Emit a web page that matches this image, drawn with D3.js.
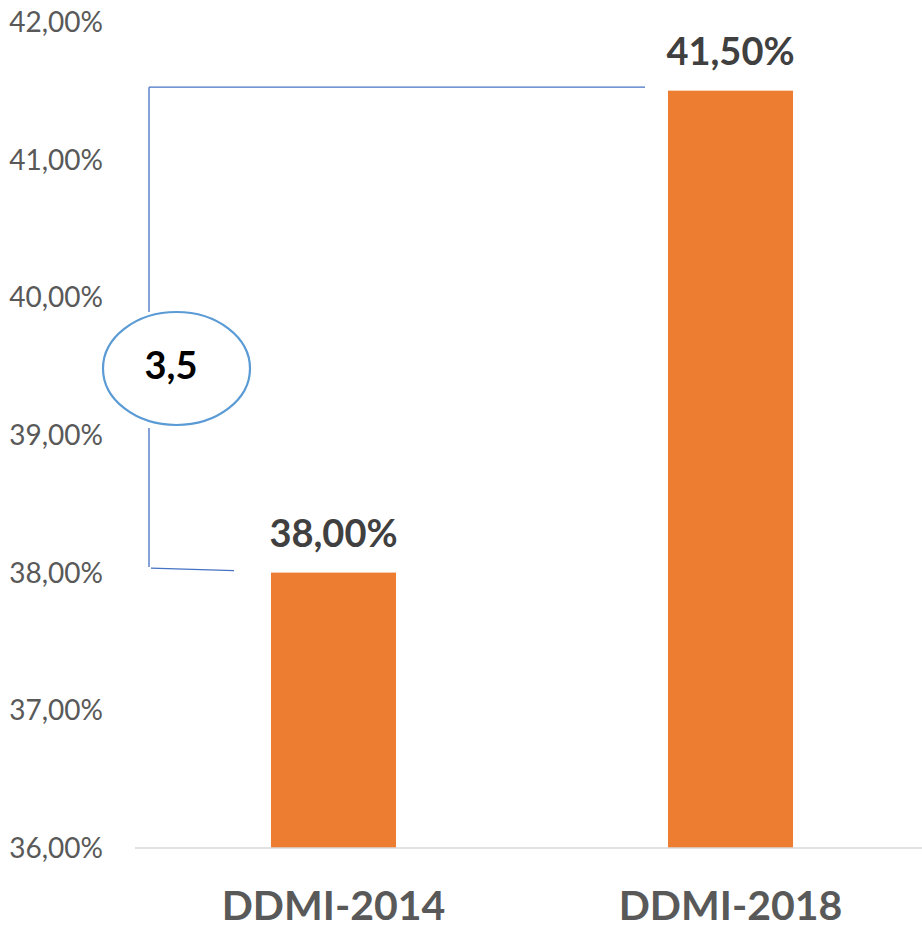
<!DOCTYPE html>
<html>
<head>
<meta charset="utf-8">
<script src="https://cdn.jsdelivr.net/npm/d3@7"></script>
<style>
  html, body { margin: 0; padding: 0; background: #ffffff; }
  #chart { width: 922px; height: 930px; }
</style>
</head>
<body>
<div id="chart"></div>
<script>
// chart data
const categories = ["DDMI-2014", "DDMI-2018"];
const values = [38.0, 41.5];
const yTicks = [36, 37, 38, 39, 40, 41, 42];
const diffLabel = "3,5";

const width = 922;
const height = 930;
const font = "Lato, 'Open Sans', sans-serif";
const barColor = "#ed7d31";
const bracketColor = "#4472c4";

const fmt = (v) => v.toFixed(2).replace(".", ",") + "%";

const svg = d3
  .select("#chart")
  .append("svg")
  .attr("width", width)
  .attr("height", height)
  .style("font-family", font);

const y = d3.scaleLinear().domain([36, 42]).range([848, 21.8]);

const x = d3
  .scaleBand()
  .domain(categories)
  .range([135, 929])
  .paddingInner(0.685)
  .paddingOuter(0.3425);

// y axis labels (no axis line)
svg
  .append("g")
  .selectAll("text")
  .data(yTicks)
  .join("text")
  .attr("x", 103)
  .attr("y", (d) => y(d))
  .attr("dy", "0.36em")
  .attr("text-anchor", "end")
  .attr("fill", "#595959")
  .style("font-size", "28px")
  .text((d) => fmt(d));

// bars
svg
  .append("g")
  .selectAll("rect")
  .data(values)
  .join("rect")
  .attr("x", (d, i) => x(categories[i]))
  .attr("y", (d) => y(d))
  .attr("width", x.bandwidth())
  .attr("height", (d) => y(36) - y(d))
  .attr("fill", barColor);

// baseline
svg
  .append("line")
  .attr("x1", 135)
  .attr("x2", 922)
  .attr("y1", y(36))
  .attr("y2", y(36))
  .attr("stroke", "#d9d9d9")
  .attr("stroke-width", 1.5);

// value labels
svg
  .append("g")
  .selectAll("text")
  .data(values)
  .join("text")
  .attr("x", (d, i) => x(categories[i]) + x.bandwidth() / 2)
  .attr("y", (d) => y(d) - 26)
  .attr("text-anchor", "middle")
  .attr("fill", "#404040")
  .style("font-size", "38px")
  .style("font-weight", "bold")
  .text((d) => fmt(d));

// category labels
svg
  .append("g")
  .selectAll("text")
  .data(categories)
  .join("text")
  .attr("x", (d) => x(d) + x.bandwidth() / 2)
  .attr("y", 920)
  .attr("text-anchor", "middle")
  .attr("fill", "#595959")
  .style("font-size", "41px")
  .style("font-weight", "bold")
  .text((d) => d);

// difference bracket
const bx = 149;
const ell = { cx: 176.5, cy: 368.5, rx: 73.5, ry: 56.5 };
const topY = y(values[1]) - 3.5;
const botY = y(values[0]) - 5.5;

const bracket = svg
  .append("g")
  .attr("stroke", bracketColor)
  .attr("stroke-width", 1.3)
  .attr("fill", "none");

bracket
  .append("line")
  .attr("x1", bx)
  .attr("x2", 645)
  .attr("y1", topY)
  .attr("y2", topY);
bracket
  .append("line")
  .attr("x1", bx)
  .attr("x2", bx)
  .attr("y1", topY)
  .attr("y2", ell.cy - ell.ry);
bracket
  .append("line")
  .attr("x1", bx)
  .attr("x2", bx)
  .attr("y1", ell.cy + ell.ry + 3)
  .attr("y2", botY);
bracket
  .append("line")
  .attr("x1", bx + 2)
  .attr("x2", 234)
  .attr("y1", botY + 1)
  .attr("y2", botY + 3.5);

svg
  .append("ellipse")
  .attr("cx", ell.cx)
  .attr("cy", ell.cy)
  .attr("rx", ell.rx)
  .attr("ry", ell.ry)
  .attr("fill", "#ffffff")
  .attr("stroke", "#5b9bd5")
  .attr("stroke-width", 2.2);

svg
  .append("text")
  .attr("x", 171)
  .attr("y", 379)
  .attr("text-anchor", "middle")
  .attr("fill", "#000000")
  .style("font-size", "38px")
  .style("font-weight", "bold")
  .text(diffLabel);
</script>
</body>
</html>
